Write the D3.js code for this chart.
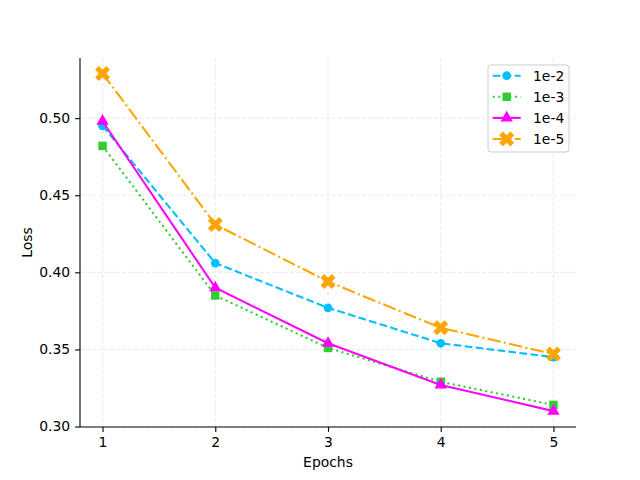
<!DOCTYPE html>
<html>
<head>
<meta charset="utf-8">
<script src="https://cdn.jsdelivr.net/npm/d3@7"></script>
<style>
  body { margin: 0; background: #fff; }
  svg { font-family: "DejaVu Sans", sans-serif; }
</style>
</head>
<body>
<svg></svg>
<script>
// Data
const epochs = [1, 2, 3, 4, 5];
const loss1e2 = [0.495, 0.406, 0.377, 0.354, 0.345];
const loss1e3 = [0.482, 0.385, 0.351, 0.329, 0.314];
const loss1e4 = [0.498, 0.390, 0.354, 0.327, 0.310];
const loss1e5 = [0.529, 0.431, 0.394, 0.364, 0.347];
const seriesNames = ["1e-2", "1e-3", "1e-4", "1e-5"];
const yTicks = [0.30, 0.35, 0.40, 0.45, 0.50];

// Dimensions and margins
const margin = { top: 58, right: 64, bottom: 53, left: 80 };
const width = 640 - margin.left - margin.right;
const height = 480 - margin.top - margin.bottom;
const fontSize = 13.9;
const lw = 2.08;

const svg = d3.select("svg")
  .attr("width", 640)
  .attr("height", 480)
  .append("g")
  .attr("transform", `translate(${margin.left}, ${margin.top})`);

const xScale = d3.scaleLinear().domain([0.8, 5.2]).range([0, width]);
const yScale = d3.scaleLinear().domain([0.2997, 0.539]).range([height, 0]);

// Series styles
const styles = [
  { color: "#00BFFF", dash: "7.7,3.33", symbol: d3.symbolCircle, size: 60, rotate: 0 },
  { color: "#32CD32", dash: "2.08,3.44", symbol: d3.symbolSquare, size: 72, rotate: 0 },
  { color: "#FF00FF", dash: null, symbol: d3.symbolTriangle, size: 66, rotate: 0 },
  { color: "#FFA500", dash: "13.3,3.33,2.08,3.33", symbol: d3.symbolCross, size: 140, rotate: 45 }
];
const series = [loss1e2, loss1e3, loss1e4, loss1e5].map((vals, i) => ({
  name: seriesNames[i],
  style: styles[i],
  values: vals.map((v, j) => ({ x: epochs[j], y: v }))
}));

// Grid
svg.append("g").selectAll("line")
  .data(epochs).join("line")
  .attr("x1", d => xScale(d)).attr("x2", d => xScale(d))
  .attr("y1", 0).attr("y2", height)
  .attr("stroke", "#b0b0b0").attr("stroke-opacity", 0.35)
  .attr("stroke-width", 0.8).attr("stroke-dasharray", "4,2");
svg.append("g").selectAll("line")
  .data(yTicks).join("line")
  .attr("x1", 0).attr("x2", width)
  .attr("y1", d => yScale(d)).attr("y2", d => yScale(d))
  .attr("stroke", "#b0b0b0").attr("stroke-opacity", 0.35)
  .attr("stroke-width", 0.8).attr("stroke-dasharray", "4,2");

// Axes
const xAxis = svg.append("g")
  .attr("transform", `translate(0, ${height})`)
  .call(d3.axisBottom(xScale).tickValues(epochs).tickFormat(d3.format("d")).tickSizeOuter(0).tickSize(4.9).tickPadding(4.9));
const yAxis = svg.append("g")
  .call(d3.axisLeft(yScale).tickValues(yTicks).tickFormat(d3.format(".2f")).tickSizeOuter(0).tickSize(4.9).tickPadding(4.9));
[xAxis, yAxis].forEach(a => {
  a.select(".domain").attr("stroke", "#000").attr("stroke-width", 1.1);
  a.selectAll(".tick line").attr("stroke", "#000").attr("stroke-width", 1.1);
  a.selectAll(".tick text").attr("fill", "#000")
    .style("font-size", fontSize + "px").style("font-family", "DejaVu Sans");
});
// Complete the spines across the full extent
xAxis.select(".domain").attr("d", `M0,0H${width}`);
yAxis.select(".domain").attr("d", `M0,${height}V0`);

// Axis titles
svg.append("text")
  .attr("x", width / 2).attr("y", height + 40)
  .attr("text-anchor", "middle")
  .style("font-size", fontSize + "px")
  .text("Epochs");
svg.append("text")
  .attr("transform", "rotate(-90)")
  .attr("x", -height / 2).attr("y", -48)
  .attr("text-anchor", "middle")
  .style("font-size", fontSize + "px")
  .text("Loss");

// Lines and markers
const line = d3.line().x(d => xScale(d.x)).y(d => yScale(d.y));
series.forEach(s => {
  const g = svg.append("g");
  g.append("path")
    .attr("d", line(s.values))
    .attr("fill", "none")
    .attr("stroke", s.style.color)
    .attr("stroke-width", lw)
    .attr("stroke-dasharray", s.style.dash);
  g.selectAll("path.marker")
    .data(s.values).join("path")
    .attr("class", "marker")
    .attr("d", d3.symbol().type(s.style.symbol).size(s.style.size))
    .attr("transform", d => `translate(${xScale(d.x)}, ${yScale(d.y)}) rotate(${s.style.rotate})`)
    .attr("fill", s.style.color);
});

// Legend
const legend = svg.append("g").attr("transform", `translate(${408}, ${7})`);
legend.append("rect")
  .attr("width", 81).attr("height", 87)
  .attr("rx", 3).attr("ry", 3)
  .attr("fill", "#fff").attr("fill-opacity", 0.8)
  .attr("stroke", "#cccccc").attr("stroke-width", 1);
series.forEach((s, i) => {
  const y = 10.7 + i * 21.1;
  const row = legend.append("g").attr("transform", `translate(0, ${y})`);
  row.append("line")
    .attr("x1", 4.7).attr("x2", 32.7)
    .attr("stroke", s.style.color).attr("stroke-width", lw)
    .attr("stroke-dasharray", s.style.dash);
  row.append("path")
    .attr("d", d3.symbol().type(s.style.symbol).size(s.style.size))
    .attr("transform", `translate(18.7, 0) rotate(${s.style.rotate})`)
    .attr("fill", s.style.color);
  row.append("text")
    .attr("x", 45).attr("dy", "0.35em")
    .style("font-size", fontSize + "px")
    .text(s.name);
});
</script>
</body>
</html>
